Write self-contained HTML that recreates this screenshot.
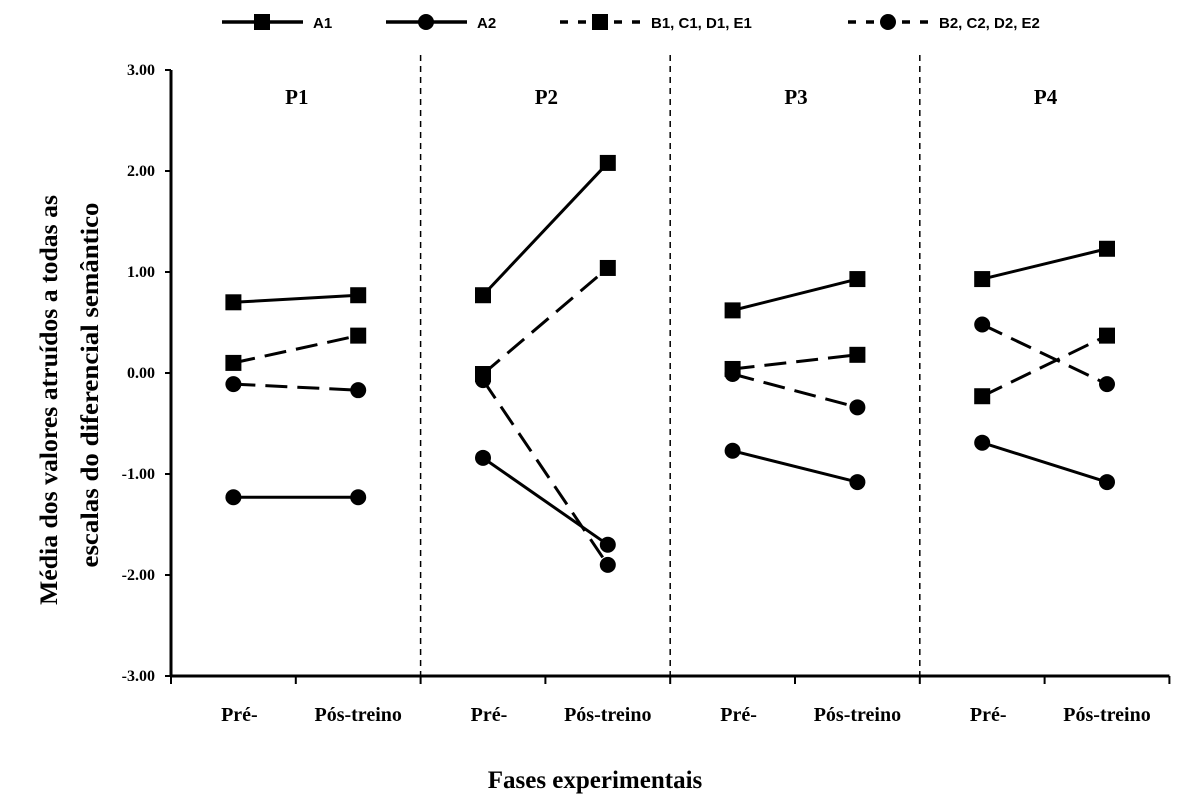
<!DOCTYPE html>
<html><head><meta charset="utf-8"><style>
body{margin:0;background:#fff}
svg text{font-family:"Liberation Serif",serif;font-weight:bold;fill:#000}
</style></head><body>
<svg id="chart" width="1194" height="802" xmlns="http://www.w3.org/2000/svg">
<g id="legend"></g>
<g id="axes"></g>
<g id="marks"></g>
</svg>
<script>
const panels=["P1","P2","P3","P4"];
const phases=["Pré-","Pós-treino"];
const yTicks=[3,2,1,0,-1,-2,-3];
const seriesNames=["A1","A2","B1, C1, D1, E1","B2, C2, D2, E2"];
const a1=[[0.70,0.77],[0.77,2.08],[0.62,0.93],[0.93,1.23]];
const a2=[[-1.23,-1.23],[-0.84,-1.70],[-0.77,-1.08],[-0.69,-1.08]];
const b1=[[0.10,0.37],[-0.01,1.04],[0.04,0.18],[-0.23,0.37]];
const b2=[[-0.11,-0.17],[-0.07,-1.90],[-0.01,-0.34],[0.48,-0.11]];

const NS="http://www.w3.org/2000/svg";
const x0=171,step=124.8,yZero=373,yUnit=101;
const y=v=>yZero-v*yUnit;
const xc=(p,i)=>x0+step*(p*2+i+0.5);
function mk(tag,attrs,parent,txt){const e=document.createElementNS(NS,tag);for(const k in attrs)e.setAttribute(k,attrs[k]);if(txt!==undefined)e.textContent=txt;parent.appendChild(e);return e;}
const axes=document.getElementById('axes'),marks=document.getElementById('marks'),leg=document.getElementById('legend');

let e=mk('line',{x1:x0,y1:y(3),x2:x0,y2:y(-3),stroke:'#000','stroke-width':3},axes);


e=mk('line',{x1:x0,y1:y(-3),x2:x0+step*8,y2:y(-3),stroke:'#000','stroke-width':3},axes);


yTicks.forEach(v=>{
  mk('line',{x1:x0-6,y1:y(v),x2:x0,y2:y(v),stroke:'#000','stroke-width':2},axes);
  const t=mk('text',{x:x0-16,y:y(v)+5,'text-anchor':'end','font-size':16},axes,v.toFixed(2));
  
  
});
for(let k=0;k<=8;k++){
  mk('line',{x1:x0+step*k,y1:y(-3),x2:x0+step*k,y2:y(-3)+8,stroke:'#000','stroke-width':2},axes);
}
panels.forEach((p,pi)=>{
  const t=mk('text',{x:(xc(pi,0)+xc(pi,1))/2+1,y:104,'text-anchor':'middle','font-size':21},axes,p);
  
  
  if(pi>0){
    const d=mk('line',{x1:x0+step*pi*2,y1:55,x2:x0+step*pi*2,y2:y(-3),stroke:'#000','stroke-width':1.5,'stroke-dasharray':'6,5'},axes);
    
    
  }
  phases.forEach((ph,i)=>{
    const c=mk('text',{x:xc(pi,i)+(i==0?6:0),y:721,'text-anchor':'middle','font-size':20},axes,ph);
    
    
  });
});
e=mk('text',{x:595,y:788,'text-anchor':'middle','font-size':25},axes,'Fases experimentais');


e=mk('text',{transform:'translate(57,400) rotate(-90)','text-anchor':'middle','font-size':25,textLength:410,lengthAdjust:'spacingAndGlyphs'},axes,'Média dos valores atruídos a todas as');


e=mk('text',{transform:'translate(98,385) rotate(-90)','text-anchor':'middle','font-size':25,textLength:365,lengthAdjust:'spacingAndGlyphs'},axes,'escalas do diferencial semântico');



function marker(g,shape,cx,cy){
  if(shape==='sq')return mk('rect',{x:cx-8,y:cy-8,width:16,height:16,fill:'#000'},g);
  return mk('circle',{cx:cx,cy:cy,r:8,fill:'#000'},g);
}
const defs=[[a1,'sq',null],[a2,'ci',null],[b1,'sq','22,10'],[b2,'ci','22,10']];
defs.forEach(([data,shape,dash],si)=>{
  const g=mk('g',{},marks);
  
  
  data.forEach((pair,pi)=>{
    const l=mk('line',{x1:xc(pi,0),y1:y(pair[0]),x2:xc(pi,1),y2:y(pair[1]),stroke:'#000','stroke-width':3},g);
    if(dash)l.setAttribute('stroke-dasharray',dash);
    
    
    pair.forEach((v,i)=>{
      const m=marker(g,shape,xc(pi,i),y(v));
      
      
    });
  });
});
const legPos=[[222,'sq',null],[386,'ci',null],[560,'sq','8,10'],[848,'ci','8,10']];
legPos.forEach(([lx,shape,dash],i)=>{
  const g=mk('g',{},leg);
  
  
  const l=mk('line',{x1:lx,y1:22,x2:lx+81,y2:22,stroke:'#000','stroke-width':3.5},g);
  if(dash)l.setAttribute('stroke-dasharray',dash);
  marker(g,shape,lx+40,22);
  mk('text',{x:lx+91,y:28,'font-size':15,style:'font-family:"Liberation Sans",sans-serif'},g,seriesNames[i]);
});
</script>
</body></html>
